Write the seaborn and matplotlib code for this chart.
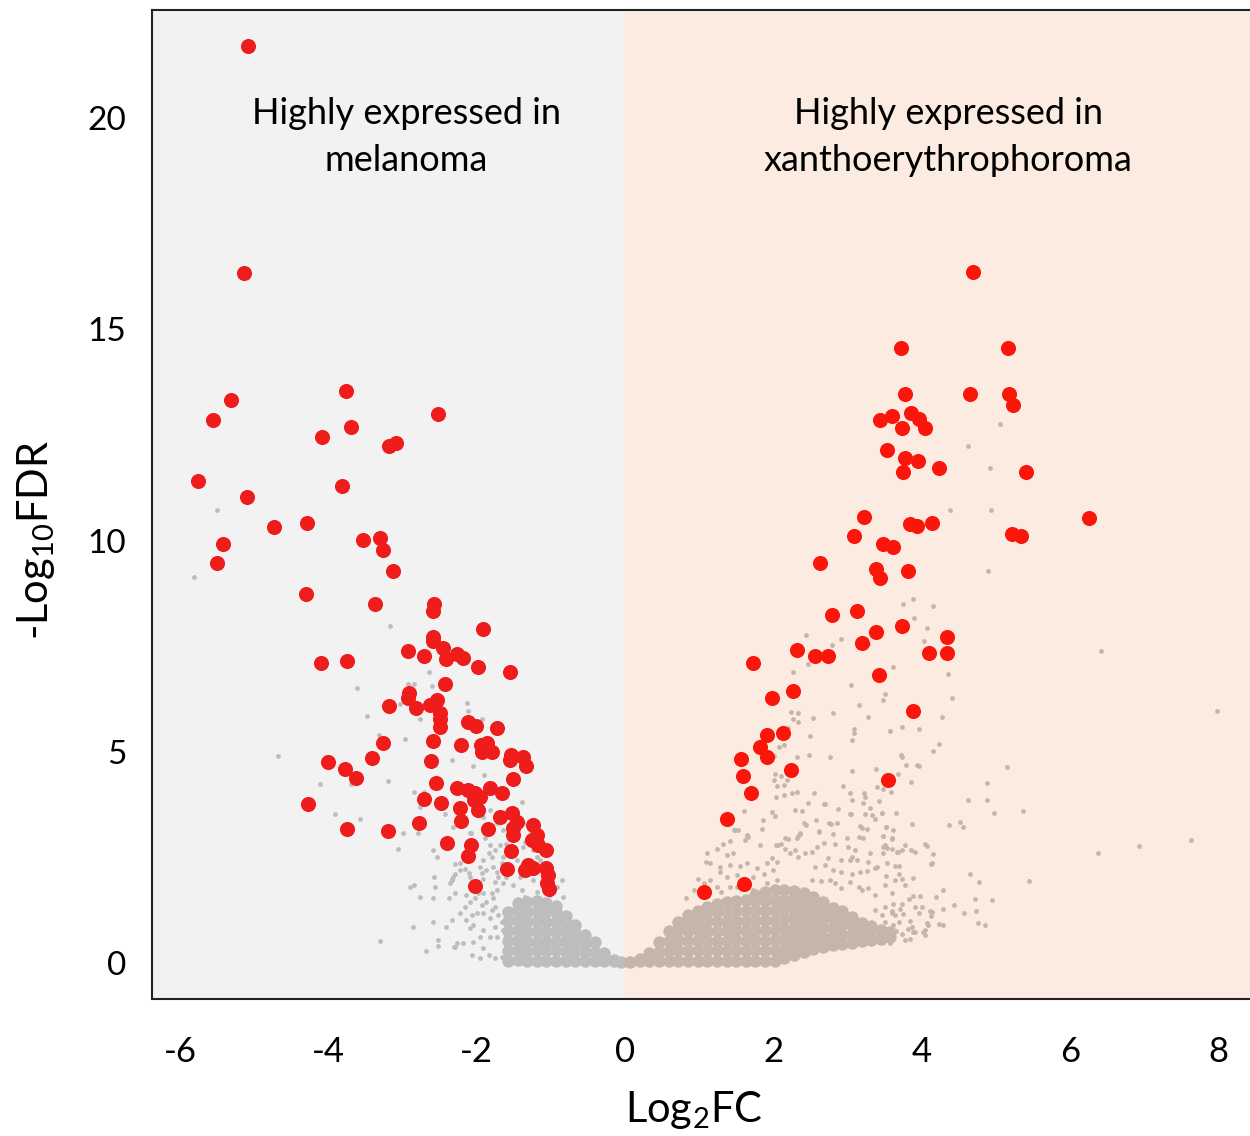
import pandas as pd
import matplotlib
matplotlib.use("Agg")
import matplotlib.pyplot as plt
import seaborn as sns

# ---------------------------------------------------------------
# Data (log2FC, -log10 FDR)
# ---------------------------------------------------------------
# significant genes, melanoma side
red_left = [
    (-5.09, 21.70), (-5.14, 16.33), (-5.31, 13.33), (-5.56, 12.85), (-3.76, 13.54),
    (-3.70, 12.69), (-4.09, 12.45), (-3.18, 12.24), (-3.09, 12.31), (-2.52, 12.99),
    (-5.76, 11.41), (-5.10, 11.03), (-3.82, 11.29), (-4.73, 10.32), (-4.29, 10.41),
    (-5.42, 9.92), (-5.50, 9.47), (-3.53, 10.01), (-3.31, 10.06), (-3.26, 9.78),
    (-3.13, 9.28), (-4.30, 8.73), (-3.37, 8.50), (-2.58, 8.50), (-2.59, 8.33),
    (-1.92, 7.91), (-2.59, 7.72), (-2.59, 7.62), (-2.93, 7.38), (-2.71, 7.27),
    (-2.46, 7.46), (-2.41, 7.20), (-2.27, 7.31), (-2.19, 7.22), (-1.98, 7.01),
    (-1.55, 6.89), (-4.10, 7.10), (-3.75, 7.15), (-2.43, 6.60), (-2.91, 6.39),
    (-2.93, 6.27), (-2.82, 6.04), (-3.18, 6.08), (-2.63, 6.11), (-2.54, 6.22),
    (-2.50, 5.92), (-2.50, 5.78), (-2.50, 5.59), (-2.12, 5.70), (-2.01, 5.61),
    (-1.73, 5.56), (-2.59, 5.25), (-3.26, 5.21), (-2.21, 5.16), (-1.94, 5.16),
    (-1.86, 5.21), (-1.93, 4.99), (-1.79, 4.99), (-1.54, 4.92), (-1.55, 4.80),
    (-1.38, 4.88), (-1.34, 4.66), (-2.62, 4.78), (-3.41, 4.85), (-4.01, 4.76),
    (-3.78, 4.59), (-3.63, 4.38), (-1.51, 4.36), (-2.55, 4.26), (-2.27, 4.14),
    (-2.12, 4.09), (-2.02, 4.02), (-1.96, 3.93), (-1.98, 3.62), (-1.82, 4.14),
    (-1.66, 4.02), (-2.04, 3.86), (-2.71, 3.88), (-2.48, 3.79), (-2.23, 3.67),
    (-2.21, 3.36), (-4.28, 3.76), (-3.75, 3.17), (-3.20, 3.12), (-2.78, 3.31),
    (-1.85, 3.17), (-1.69, 3.46), (-1.52, 3.55), (-1.46, 3.34), (-1.51, 3.20),
    (-1.51, 3.03), (-1.24, 3.27), (-1.19, 3.03), (-1.25, 2.91), (-1.17, 2.79),
    (-1.07, 2.67), (-2.40, 2.84), (-2.08, 2.79), (-2.12, 2.53), (-1.54, 2.65),
    (-1.59, 2.22), (-1.31, 2.32), (-1.35, 2.20), (-1.24, 2.25), (-1.07, 2.25),
    (-1.04, 2.08), (-1.05, 1.89), (-1.03, 1.75), (-2.02, 1.82),
]

# significant genes, xanthoerythrophoroma side
red_right = [
    (4.69, 16.36), (3.72, 14.56), (5.16, 14.56), (3.77, 13.48), (4.65, 13.48),
    (5.18, 13.48), (5.24, 13.21), (3.44, 12.85), (3.60, 12.95), (3.86, 13.02),
    (3.97, 12.87), (3.74, 12.66), (4.04, 12.66), (3.54, 12.14), (3.78, 11.95),
    (3.95, 11.88), (3.75, 11.63), (4.24, 11.73), (5.41, 11.63), (6.26, 10.54),
    (3.22, 10.56), (3.84, 10.39), (3.94, 10.34), (4.14, 10.41), (5.22, 10.15),
    (5.34, 10.11), (3.09, 10.11), (3.48, 9.93), (3.62, 9.85), (2.63, 9.47),
    (3.38, 9.34), (3.44, 9.11), (3.82, 9.29), (3.13, 8.34), (2.79, 8.24),
    (3.74, 7.98), (3.38, 7.84), (4.34, 7.72), (3.20, 7.58), (2.32, 7.41),
    (2.56, 7.27), (2.74, 7.27), (4.10, 7.33), (4.34, 7.34), (1.72, 7.11),
    (3.43, 6.82), (2.27, 6.44), (1.98, 6.27), (3.88, 5.96), (1.91, 5.40),
    (2.13, 5.45), (1.82, 5.12), (1.91, 4.88), (1.57, 4.84), (1.59, 4.43),
    (2.24, 4.58), (3.55, 4.33), (1.70, 4.03), (1.37, 3.42), (1.61, 1.87),
    (1.07, 1.69),
]

# non-significant genes, scattered (melanoma side)
gray_left = [
    (-5.50, 10.73), (-5.82, 9.15), (-3.17, 7.97), (-2.64, 6.88), (-2.61, 6.56),
    (-2.93, 6.60), (-2.85, 6.60), (-3.62, 6.52), (-3.04, 6.14), (-3.48, 5.85),
    (-2.76, 5.78), (-2.13, 6.15), (-2.12, 5.96), (-1.93, 5.78), (-3.32, 5.41),
    (-2.97, 5.30), (-4.68, 4.90), (-2.33, 4.80), (-2.05, 4.66), (-1.90, 4.45),
    (-4.12, 4.23), (-3.70, 4.24), (-3.20, 4.31), (-2.85, 4.04), (-2.77, 3.69),
    (-2.71, 4.04), (-2.78, 3.37), (-1.39, 3.81), (-3.91, 3.52), (-3.57, 3.42),
    (-2.43, 3.53), (-3.00, 3.08), (-2.79, 3.08), (-3.06, 2.71), (-2.57, 2.04),
    (-2.90, 1.79), (-2.85, 1.85), (-2.56, 1.79), (-2.77, 1.57), (-2.59, 1.55),
    (-2.86, 0.86), (-2.59, 0.97), (-3.30, 0.53), (-2.68, 0.29), (-2.52, 0.54),
    (-2.52, 0.41), (-2.29, 1.66), (-2.33, 1.02), (-2.31, 0.38), (-2.27, 0.47),
    (-2.08, 3.08), (-1.89, 2.95), (-1.82, 2.79), (-1.75, 2.67), (-1.84, 2.60),
    (-1.80, 2.52), (-1.69, 2.79), (-2.29, 2.34), (-2.16, 2.22), (-2.11, 2.14),
    (-2.23, 2.20), (-1.96, 2.28), (-1.93, 2.14), (-1.87, 2.20), (-2.32, 2.04),
    (-2.34, 1.96), (-2.36, 1.89), (-1.78, 2.28), (-1.73, 2.16), (-1.66, 2.36),
    (-1.64, 2.20), (-1.71, 2.04), (-1.75, 1.92), (-2.38, 1.55), (-2.05, 1.73),
    (-1.98, 1.65), (-2.02, 1.53), (-2.09, 1.45), (-2.14, 1.61), (-1.91, 1.65),
    (-1.80, 1.65), (-1.78, 1.53), (-1.87, 1.45), (-1.93, 1.37), (-1.75, 1.33),
    (-2.23, 1.19), (-2.16, 1.33), (-2.41, 0.86), (-2.14, 1.02), (-2.07, 1.14),
    (-2.00, 1.18), (-2.05, 0.90), (-2.09, 0.82), (-1.91, 1.18), (-1.80, 1.25),
    (-1.82, 1.06), (-1.71, 1.14), (-1.66, 0.98), (-1.75, 0.86), (-1.91, 0.78),
    (-1.96, 0.62), (-1.82, 0.62), (-1.73, 0.62), (-1.64, 0.78), (-1.60, 0.62),
    (-2.29, 0.39), (-2.18, 0.47), (-2.05, 0.50), (-1.91, 0.35), (-2.07, 0.19),
    (-1.96, 0.11), (-1.84, 0.19), (-1.75, 0.11), (-1.66, 0.15), (-1.55, 0.11),
    (-1.48, 0.02), (-1.60, 0.31), (-1.48, 0.47), (-1.91, 2.44), (-1.91, 2.00),
    (-2.09, 2.04), (-2.23, 2.36), (-2.29, 2.12), (-2.34, 2.00), (-1.64, 2.52),
    (-1.60, 2.04), (-1.64, 1.89), (-1.73, 1.73), (-1.51, 1.85), (-1.42, 2.04),
    (-1.39, 1.73), (-1.35, 1.57), (-1.19, 1.69), (-1.01, 1.61), (-0.92, 1.81),
    (-0.85, 1.96), (-0.83, 1.57), (-1.24, 1.96), (-1.46, 2.44), (-1.37, 2.75),
    (-1.24, 2.67), (-1.15, 2.44), (-1.82, 3.62), (-1.91, 3.46), (-1.73, 3.31),
    (-1.37, 3.31), (-1.46, 3.07), (-1.35, 2.87), (-1.64, 3.15), (-1.60, 2.83),
    (-1.19, 2.52), (-1.06, 2.36), (-2.09, 3.07), (-2.32, 3.23), (-2.45, 2.91),
    (-2.59, 2.67), (-2.54, 2.52),
]

# non-significant genes, scattered (xanthoerythrophoroma side)
gray_right = [
    (5.06, 12.76), (4.63, 12.24), (4.92, 11.72), (4.38, 10.73), (4.94, 10.73),
    (4.90, 9.29), (3.75, 8.50), (3.88, 8.62), (4.15, 8.45), (3.90, 8.16),
    (4.08, 7.92), (4.03, 7.63), (6.42, 7.38), (3.61, 7.01), (4.35, 6.84),
    (3.51, 6.37), (3.48, 6.22), (4.41, 6.27), (7.99, 5.96), (4.27, 5.83),
    (3.58, 5.50), (3.73, 5.58), (3.97, 5.54), (4.24, 5.18), (4.15, 5.02),
    (3.72, 4.93), (3.73, 4.87), (3.79, 4.68), (3.94, 4.68), (3.97, 4.66),
    (5.15, 4.64), (3.68, 4.47), (3.86, 4.28), (3.60, 4.30), (3.48, 4.11),
    (3.59, 4.06), (4.88, 4.26), (4.62, 3.87), (4.88, 3.87), (4.98, 3.55),
    (5.37, 3.60), (3.47, 3.55), (3.65, 3.55), (3.87, 3.30), (4.37, 3.28),
    (4.52, 3.34), (4.56, 3.21), (3.52, 3.22), (3.61, 3.15), (3.48, 3.02),
    (3.60, 2.94), (3.48, 2.75), (3.54, 2.73), (3.77, 2.79), (4.08, 2.78),
    (3.67, 2.62), (3.74, 2.67), (3.86, 2.67), (3.91, 2.62), (4.15, 2.58),
    (6.38, 2.61), (6.93, 2.78), (7.63, 2.91), (3.54, 2.36), (3.64, 2.30),
    (3.69, 2.30), (4.13, 2.34), (4.66, 2.11), (4.78, 1.93), (5.45, 1.95),
    (3.52, 2.07), (3.70, 2.10), (3.74, 1.99), (3.88, 2.02), (3.64, 1.96),
    (4.29, 1.73), (4.19, 1.56), (4.44, 1.38), (4.72, 1.52), (4.95, 1.49),
    (4.57, 1.18), (4.74, 1.23), (4.76, 0.96), (4.86, 0.90), (4.29, 0.90),
    (4.24, 0.93), (4.29, 1.28), (4.11, 1.23), (4.13, 1.11), (4.09, 0.90),
    (4.05, 0.79), (4.05, 0.67), (4.02, 0.73), (3.89, 1.59), (3.98, 1.59),
    (3.83, 1.51), (3.91, 1.32), (3.96, 1.18), (4.00, 1.32), (3.73, 1.41),
    (3.71, 1.28), (3.75, 1.17), (3.62, 1.41), (3.60, 1.24), (3.64, 1.15),
    (3.69, 0.98), (3.62, 0.90), (3.84, 1.00), (3.87, 0.86), (3.82, 0.81),
    (3.89, 0.73), (3.84, 0.56), (3.78, 0.54), (3.73, 0.69), (3.66, 0.77),
    (3.55, 0.81), (3.53, 0.65), (3.48, 0.73), (3.57, 0.48), (3.51, 0.98),
    (3.46, 1.15), (2.27, 6.88), (2.47, 7.09), (3.05, 6.59), (2.32, 6.45),
    (3.15, 6.10), (2.24, 5.95), (2.34, 5.92), (2.80, 5.92), (2.26, 5.78),
    (2.34, 5.70), (2.53, 5.80), (3.28, 5.83), (3.09, 5.53), (3.09, 5.44),
    (3.06, 5.29), (3.57, 5.49), (2.20, 5.56), (2.49, 5.37), (2.08, 5.11),
    (2.15, 5.16), (2.77, 4.88), (2.48, 4.92), (2.32, 4.88), (2.01, 4.90),
    (3.39, 4.60), (3.06, 4.54), (2.02, 4.47), (2.10, 4.43), (2.01, 4.33),
    (2.19, 4.33), (2.05, 4.18), (2.14, 4.21), (2.94, 4.18), (3.40, 4.17),
    (3.04, 4.03), (3.22, 4.03), (3.24, 3.93), (3.21, 3.79), (3.06, 3.87),
    (3.04, 3.52), (3.42, 3.83), (2.03, 3.93), (2.15, 3.98), (2.25, 4.03),
    (2.32, 4.05), (2.55, 4.03), (2.47, 3.78), (2.69, 3.76), (2.87, 3.65),
    (3.30, 3.66), (3.24, 3.52), (3.33, 3.50), (3.37, 3.42), (3.46, 3.55),
    (2.29, 3.63), (2.39, 3.59), (1.98, 3.57), (2.02, 3.47), (1.61, 3.61),
    (1.86, 3.38), (2.57, 3.38), (2.41, 3.31), (2.44, 3.26), (2.75, 3.32),
    (2.78, 3.29), (2.86, 3.32), (3.17, 3.24), (3.20, 3.19), (3.27, 3.17),
    (3.52, 3.23), (1.47, 3.14), (1.52, 3.15), (1.65, 3.03), (1.66, 2.99),
    (1.85, 3.17), (2.16, 2.97), (2.34, 3.01), (2.36, 3.05), (2.62, 3.11),
    (2.81, 3.05), (3.00, 2.95), (3.16, 2.99), (3.21, 2.97), (3.48, 3.01),
    (3.60, 2.95), (2.44, 7.77), (2.91, 7.66), (2.79, 7.52), (3.15, 7.48),
    (3.28, 7.55), (2.70, 3.76), (3.05, 3.54), (2.36, 3.07), (2.32, 2.97),
    (2.20, 2.93), (2.11, 2.83), (2.61, 3.12), (2.68, 2.85), (2.83, 2.81),
    (2.59, 2.75), (2.52, 2.63), (2.43, 2.60), (2.29, 2.67), (2.23, 2.60),
    (2.16, 2.71), (2.06, 2.79), (2.34, 2.52), (3.01, 2.75), (3.10, 2.67),
    (3.06, 2.52), (3.31, 2.61), (3.51, 2.79), (3.48, 2.60), (3.60, 2.71),
    (3.68, 2.63), (2.74, 2.48), (2.92, 2.45), (3.04, 2.44), (3.13, 2.45),
    (3.28, 2.40), (3.40, 2.28), (4.14, 2.36), (2.56, 2.28), (2.70, 2.32),
    (2.81, 2.20), (2.92, 2.16), (3.06, 2.12), (3.17, 2.16), (3.26, 2.18),
    (3.37, 2.24), (2.52, 1.96), (2.65, 1.95), (2.77, 1.96), (2.83, 1.89),
    (2.92, 1.77), (3.04, 1.92), (3.15, 1.81), (3.19, 1.73), (3.28, 1.77),
    (3.37, 1.61), (3.51, 1.85), (3.60, 1.65), (3.78, 1.85), (4.14, 1.21),
    (4.07, 0.94), (3.91, 0.74), (3.51, 1.33), (3.60, 1.18), (3.37, 1.25),
    (1.48, 3.15), (1.64, 3.01), (1.62, 2.91), (1.82, 2.79), (2.04, 2.79),
    (1.42, 2.89), (1.32, 2.82), (1.24, 2.70), (1.11, 2.61), (1.37, 2.56),
    (1.46, 2.60), (1.09, 2.40), (1.15, 2.36), (1.28, 2.28), (1.42, 2.32),
    (1.55, 2.30), (1.64, 2.36), (1.78, 2.24), (1.91, 2.36), (1.98, 2.48),
    (2.05, 2.40), (0.98, 2.00), (1.15, 1.96), (1.28, 2.16), (1.37, 2.04),
    (1.51, 2.08), (1.73, 2.04), (1.87, 2.12), (2.00, 2.20), (1.06, 1.89),
    (1.24, 1.81), (1.42, 1.81), (0.93, 1.73), (0.82, 1.53), (1.30, 1.69),
    (1.51, 1.81), (1.73, 1.73), (1.91, 1.89), (2.05, 1.96), (4.05, 2.83),
]

# dense low-significance cloud, read column by column (log2FC -> -log10FDR values)
core_left_x = [-1.58, -1.45, -1.32, -1.19, -1.06, -0.93, -0.80, -0.67, -0.54, -0.41, -0.28, -0.15, -0.05]
core_left_y = [
    [0.05, 0.28, 0.52, 0.76, 1.00, 1.22],
    [0.08, 0.30, 0.55, 0.78, 1.02, 1.25, 1.42],
    [0.05, 0.27, 0.50, 0.74, 0.98, 1.20, 1.44],
    [0.06, 0.30, 0.53, 0.77, 1.00, 1.24, 1.46],
    [0.05, 0.28, 0.50, 0.74, 0.97, 1.20, 1.42],
    [0.06, 0.30, 0.52, 0.76, 0.98, 1.20, 1.35],
    [0.05, 0.27, 0.50, 0.72, 0.94, 1.12],
    [0.06, 0.28, 0.50, 0.72, 0.90],
    [0.05, 0.27, 0.48, 0.66],
    [0.05, 0.27, 0.50],
    [0.05, 0.25],
    [0.04, 0.08],
    [0.02],
]
core_right_x = [0.07, 0.20, 0.33, 0.46, 0.59, 0.72, 0.85, 0.98, 1.11, 1.24, 1.37, 1.50, 1.63,
                1.76, 1.89, 2.02, 2.15, 2.28, 2.41, 2.54, 2.67, 2.80, 2.93, 3.06, 3.19, 3.32,
                3.45, 3.58]
core_right_y = [
    [0.02],
    [0.04, 0.10],
    [0.05, 0.25],
    [0.05, 0.27, 0.50],
    [0.05, 0.28, 0.52, 0.75],
    [0.06, 0.30, 0.54, 0.78, 0.98],
    [0.05, 0.28, 0.52, 0.76, 0.98, 1.15],
    [0.06, 0.30, 0.54, 0.78, 1.00, 1.24],
    [0.05, 0.28, 0.52, 0.76, 1.00, 1.22, 1.32],
    [0.06, 0.30, 0.53, 0.77, 1.00, 1.24, 1.40],
    [0.05, 0.28, 0.52, 0.75, 0.98, 1.22, 1.44],
    [0.06, 0.30, 0.54, 0.78, 1.00, 1.24, 1.48],
    [0.05, 0.28, 0.52, 0.76, 1.00, 1.24, 1.50],
    [0.06, 0.30, 0.54, 0.78, 1.02, 1.26, 1.50, 1.60],
    [0.05, 0.28, 0.52, 0.76, 1.00, 1.24, 1.48, 1.68],
    [0.06, 0.30, 0.54, 0.78, 1.02, 1.26, 1.50, 1.74],
    [0.12, 0.34, 0.56, 0.80, 1.04, 1.28, 1.50, 1.72],
    [0.20, 0.42, 0.64, 0.86, 1.08, 1.30, 1.52, 1.70],
    [0.26, 0.48, 0.70, 0.92, 1.14, 1.36, 1.56, 1.66],
    [0.33, 0.55, 0.77, 0.99, 1.21, 1.43, 1.56],
    [0.38, 0.60, 0.82, 1.04, 1.26, 1.44],
    [0.42, 0.64, 0.86, 1.08, 1.30],
    [0.45, 0.67, 0.89, 1.10, 1.24],
    [0.48, 0.70, 0.90, 1.08],
    [0.52, 0.74, 0.94],
    [0.55, 0.76, 0.88],
    [0.58, 0.78],
    [0.62, 0.74],
]

x_ticks = [-6, -4, -2, 0, 2, 4, 6, 8]
y_ticks = [0, 5, 10, 15, 20]
label_left = "Highly expressed in\nmelanoma"
label_right = "Highly expressed in\nxanthoerythrophoroma"


def pairs_df(pairs):
    return pd.DataFrame(pairs, columns=["log2fc", "fdr"])


def columns_df(xs, ys):
    rows = [(x, y) for x, col in zip(xs, ys) for y in col]
    return pd.DataFrame(rows, columns=["log2fc", "fdr"])


# ---------------------------------------------------------------
# Plot
# ---------------------------------------------------------------
sns.set_theme(style="white")
plt.rcParams["font.family"] = ["Lato", "DejaVu Sans"]
plt.rcParams["axes.unicode_minus"] = False
plt.rcParams["mathtext.default"] = "regular"
plt.rcParams["text.color"] = "black"
plt.rcParams["axes.labelcolor"] = "black"
plt.rcParams["xtick.color"] = "black"
plt.rcParams["ytick.color"] = "black"

fig = plt.figure(figsize=(12.5, 11.36), dpi=100)
ax = fig.add_axes([0.1216, 0.1206, 0.8784, 0.8706])

xmin, xmax = -6.38, 8.43
ymin, ymax = -0.85, 22.56
ax.axvspan(xmin, 0, color="#f2f2f2", lw=0, zorder=0)
ax.axvspan(0, xmax, color="#fcebe1", lw=0, zorder=0)

gray_l, gray_r = "#bdbdbd", "#c5b5ab"
sns.scatterplot(data=columns_df(core_left_x, core_left_y), x="log2fc", y="fdr",
                s=80, color=gray_l, linewidth=0, ax=ax, zorder=2)
sns.scatterplot(data=columns_df(core_right_x, core_right_y), x="log2fc", y="fdr",
                s=80, color=gray_r, linewidth=0, ax=ax, zorder=2)
sns.scatterplot(data=pairs_df(gray_left), x="log2fc", y="fdr",
                s=12, color=gray_l, linewidth=0, ax=ax, zorder=2)
sns.scatterplot(data=pairs_df(gray_right), x="log2fc", y="fdr",
                s=12, color=gray_r, linewidth=0, ax=ax, zorder=2)
sns.scatterplot(data=pairs_df(red_left), x="log2fc", y="fdr",
                s=118, color="#ef1c1c", linewidth=0, ax=ax, zorder=3)
sns.scatterplot(data=pairs_df(red_right), x="log2fc", y="fdr",
                s=118, color="#fb160c", linewidth=0, ax=ax, zorder=3)

ax.set_xlim(xmin, xmax)
ax.set_ylim(ymin, ymax)
ax.set_xticks(x_ticks)
ax.set_yticks(y_ticks)
ax.set_xticklabels([str(t) for t in x_ticks])
ax.set_yticklabels([str(t) for t in y_ticks])

ax.tick_params(axis="x", length=14.5, width=1.1, pad=12, labelsize=25, color="#111111")
ax.tick_params(axis="y", length=14.5, width=1.1, pad=4, labelsize=24, color="#111111")
for side in ["left", "top", "bottom"]:
    ax.spines[side].set_linewidth(1.5)
    ax.spines[side].set_color("#222222")
ax.spines["right"].set_visible(False)

ax.set_xlabel("Log$_2$FC", fontsize=30, va="center")
ax.set_ylabel("-Log$_{10}$FDR", fontsize=30, va="center")
ax.xaxis.set_label_coords(0.493, -0.112)
ax.yaxis.set_label_coords(-0.106, 0.464)

ax.text(-2.95, 19.55, label_left, ha="center", va="center", fontsize=26, linespacing=1.5)
ax.text(4.36, 19.55, label_right, ha="center", va="center", fontsize=26, linespacing=1.5)

fig.savefig("out.png", dpi=100)
